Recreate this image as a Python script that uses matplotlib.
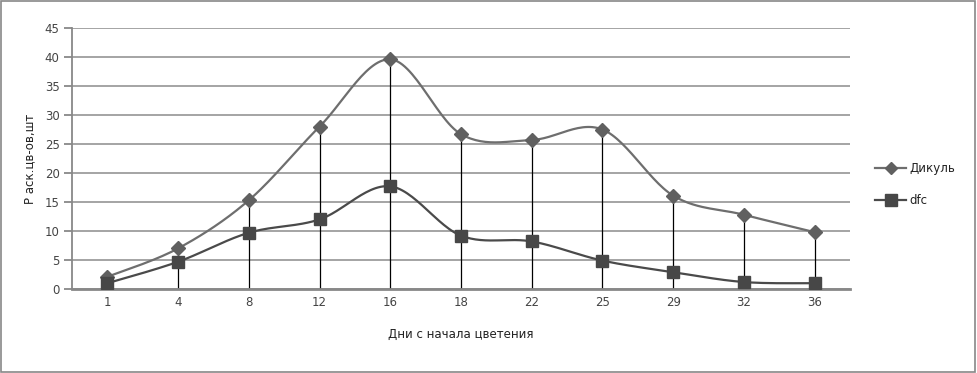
import numpy as np
import matplotlib.pyplot as plt
from matplotlib.patches import Rectangle

days = ['1', '4', '8', '12', '16', '18', '22', '25', '29', '32', '36']
dikul = [2.1, 7.0, 15.3, 28.0, 39.6, 26.7, 25.7, 27.5, 16.1, 12.8, 9.8]
dfc = [1.0, 4.7, 9.7, 12.0, 17.7, 9.2, 8.2, 4.9, 2.9, 1.2, 1.0]


def smooth(x, y, n=30):
    # Excel-like smoothed line (Bezier through points, tension 1/6)
    x = np.asarray(x, float)
    y = np.asarray(y, float)
    px = np.concatenate([[x[0]], x, [x[-1]]])
    py = np.concatenate([[y[0]], y, [y[-1]]])
    t = np.linspace(0, 1, n)[:, None]
    xs, ys = [], []
    for i in range(len(x) - 1):
        p0 = np.array([px[i + 1], py[i + 1]])
        p3 = np.array([px[i + 2], py[i + 2]])
        p1 = p0 + (p3 - np.array([px[i], py[i]])) / 6
        p2 = p3 - (np.array([px[i + 3], py[i + 3]]) - p0) / 6
        b = ((1 - t) ** 3 * p0 + 3 * (1 - t) ** 2 * t * p1
             + 3 * (1 - t) * t ** 2 * p2 + t ** 3 * p3)
        xs.extend(b[:, 0])
        ys.extend(b[:, 1])
    return xs, ys


fig = plt.figure(figsize=(9.77, 3.73), dpi=100)
fig.patches.append(Rectangle((0.001, 0.003), 0.997, 0.994, transform=fig.transFigure,
                             fill=False, edgecolor='#888888', linewidth=1.2))
ax = fig.add_axes([0.0737, 0.2252, 0.7963, 0.6997])

x = np.arange(len(days))
ax.vlines(x, 0, np.maximum(dikul, dfc), color='black', linewidth=0.9, zorder=2)

sx, sy = smooth(x, dikul)
ax.plot(sx, sy, color='#6e6e6e', linewidth=1.6, zorder=3)
ax.plot(x, dikul, linestyle='none', marker='D', markersize=7,
        color='#606060', zorder=4)
sx, sy = smooth(x, dfc)
ax.plot(sx, sy, color='#4a4a4a', linewidth=1.6, zorder=3)
ax.plot(x, dfc, linestyle='none', marker='s', markersize=8,
        color='#474747', zorder=4)

# legend handles
ax.plot([], [], color='#6e6e6e', linewidth=1.6, marker='D', markersize=6.5,
        markerfacecolor='#606060', markeredgecolor='#606060', label='Дикуль')
ax.plot([], [], color='#4a4a4a', linewidth=1.6, marker='s', markersize=8,
        markerfacecolor='#474747', markeredgecolor='#474747', label='dfc')
fig.legend(loc='center left', bbox_to_anchor=(0.885, 0.505), frameon=False,
           fontsize=8.5, handlelength=2.6, labelspacing=1.6, handletextpad=0.3,
           labelcolor='#222222')

ax.set_xlim(-0.5, len(days) - 0.5)
ax.set_ylim(0, 45)
ax.set_yticks(range(0, 46, 5))
ax.set_xticks(x)
ax.set_xticklabels(days)
ax.grid(axis='y', color='#959595', linewidth=1.2)
ax.set_axisbelow(True)
for s in ['top', 'right']:
    ax.spines[s].set_visible(False)
ax.spines['left'].set_color('#888888')
ax.spines['left'].set_linewidth(1.3)
ax.spines['bottom'].set_color('#888888')
ax.spines['bottom'].set_linewidth(2.0)
ax.tick_params(axis='y', length=6, color='#888888', width=1.3, labelsize=8.5,
               labelcolor='#444444', pad=3)
ax.tick_params(axis='x', length=0, labelsize=8.5, labelcolor='#444444', pad=5)
ax.set_xlabel('Дни с начала цветения', fontsize=8.5, color='#222222', labelpad=14)
ax.set_ylabel('Р аск.цв-ов,шт', fontsize=8.5, color='#222222', labelpad=6)

fig.savefig('out.png', dpi=100)
